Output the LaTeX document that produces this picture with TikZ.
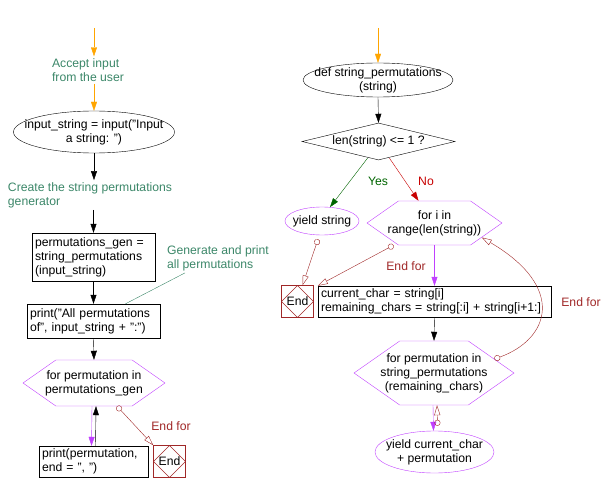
\documentclass[tikz,border=0pt]{standalone}
\usepackage{fontspec}
\setmainfont{Liberation Sans}
\usetikzlibrary{shapes.geometric,shapes.symbols,arrows.meta}
\definecolor{flowor}{RGB}{255,165,0}
\definecolor{notegr}{RGB}{60,135,105}
\definecolor{endred}{RGB}{160,40,40}
\definecolor{loopvi}{RGB}{192,64,255}
\definecolor{yesgr}{RGB}{0,100,0}
\definecolor{nored}{RGB}{200,0,0}
\begin{document}
\begin{tikzpicture}[x=1pt,y=-1pt,font=\fontsize{12.2}{14}\selectfont,
 note/.style={text=notegr,align=left,inner sep=2pt},
 term/.style={ellipse,draw,inner sep=-25pt,align=center},
 proc/.style={rectangle,draw,align=left,inner xsep=3pt,inner ysep=2pt,text width=#1,anchor=center},
 loopbox/.style={signal,signal to=east and west,signal pointer angle=70,draw=loopvi,align=center,inner xsep=-30pt,inner ysep=-8pt},
 dec/.style={diamond,draw,aspect=4,inner sep=-10pt},
 endbox/.style={rectangle,draw=endred,minimum size=32pt,inner sep=0pt,
  path picture={\draw[endred] (path picture bounding box.north) -- (path picture bounding box.east) -- (path picture bounding box.south) -- (path picture bounding box.west) -- cycle;}},
 flow/.style={-{Triangle[length=9pt,width=6pt]}},
 oflow/.style={flowor,-{Triangle[length=9pt,width=6pt]}},
 vflow/.style={loopvi,-{Triangle[length=9pt,width=6pt]}},
 endflow/.style={endred,{Circle[open,length=6pt]}-{Triangle[open,length=10pt,width=6pt]}},
 lbl/.style={inner sep=1pt}]
\useasboundingbox (0,0) rectangle (613,492);
\coordinate (s1) at (94,28);
\node[note] (acc) at (88,70) {Accept input\\from the user};
\node[term,minimum width=161pt,minimum height=42pt] (inp) at (94,132) {input\_string = input("Input\\a string: ")};
\node[note] (cre) at (90,195) {Create the string permutations\\generator};
\node[proc=117pt,minimum height=48pt] (gen) at (93.5,257) {permutations\_gen =\\string\_permutations\\(input\_string)};
\node[proc=127pt,minimum height=34pt] (pall) at (93.5,321) {print("All permutations\\of", input\_string + ":")};
\node[loopbox,minimum width=142pt,minimum height=46pt] (forp) at (94,383) {for permutation in\\permutations\_gen};
\node[proc=103pt,minimum height=31pt] (pone) at (93.5,461.5) {print(permutation,\\end = ", ")};
\node[endbox] (endl) at (169.5,461.5) {End};
\node[lbl,text=endred] (endl lbl) at (171,426) {End for};
\node[note] (gen note) at (218,258) {Generate and print\\all permutations};
\coordinate (s2) at (378,28);
\node[term,minimum width=150pt,minimum height=34pt] (def) at (378,80) {def string\_permutations\\(string)};
\node[dec,minimum width=153pt,minimum height=37pt] (len) at (378.5,141.5) {len(string) <= 1 ?};
\node[lbl,text=yesgr] (yes) at (378,181) {Yes};
\node[lbl,text=nored] (no) at (426,181) {No};
\node[term,draw=loopvi,minimum width=74pt,minimum height=28pt] (ystr) at (322,221) {yield string};
\node[loopbox,minimum width=135pt,minimum height=44pt] (fori) at (434.5,223) {for i in\\range(len(string))};
\node[endbox] (endr) at (297.5,301.5) {End};
\node[lbl,text=endred] (endr lbl) at (406,266) {End for};
\node[proc=227pt,minimum height=31pt] (cur) at (434.5,301.5) {current\_char = string[i]\\remaining\_chars = string[:i] + string[i+1:]};
\node[loopbox,minimum width=160pt,minimum height=64pt] (forr) at (434,373) {for permutation in\\string\_permutations\\(remaining\_chars)};
\node[term,draw=loopvi,minimum width=119pt,minimum height=42pt] (yperm) at (434.5,452) {yield current\_char\\+ permutation};
\node[lbl,text=endred] (loop lbl) at (581,302) {End for};
\draw[oflow] (s1) -- (s1 |- acc.north);
\draw[oflow] (inp |- acc.south) -- (inp.north);
\draw[flow] (inp.south) -- (inp |- cre.north);
\draw[flow] (gen |- cre.south) -- (gen.north);
\draw[flow] (gen.south) -- (pall.north);
\draw[flow] (pall.south) -- (forp.north);
\draw[vflow] ([xshift=-2pt]forp.south) -- ([xshift=-2pt]pone.north);
\draw[flow] ([xshift=2pt]pone.north) -- ([xshift=2pt]forp.south);
\draw[endflow] ([xshift=23pt]forp.south) -- (endl.north west);
\draw[notegr] ([xshift=-33pt]gen note.south) -- ([xshift=32pt]pall.north);
\draw[oflow] (s2) -- (def.north);
\draw[flow] (def.south) -- (len.north);
\draw[yesgr,-{Triangle[length=9pt,width=6pt]}] ([xshift=-11pt,yshift=2pt]len.south) -- (ystr.60);
\draw[nored,-{Triangle[length=9pt,width=6pt]}] ([xshift=11pt,yshift=2pt]len.south) -- ([xshift=-16pt]fori.north);
\draw[vflow] (fori.south) -- (cur.north);
\draw[endflow] ([xshift=-41pt]fori.south) -- (cur.north west);
\draw[endflow] ([xshift=-4pt,yshift=-4pt]ystr.south) -- ([xshift=5pt]endr.north);
\draw[flow] (cur.south) -- (forr.north);
\draw[vflow] ([xshift=-1pt]forr.south) -- ([xshift=-1pt]yperm.north);
\draw[endflow] ([xshift=3pt,yshift=5pt]yperm.north) -- ([xshift=3pt]forr.south);
\draw[endflow] (forr.13) .. controls +(55,-20) and +(85,50) .. (fori.-17);
\end{tikzpicture}
\end{document}
